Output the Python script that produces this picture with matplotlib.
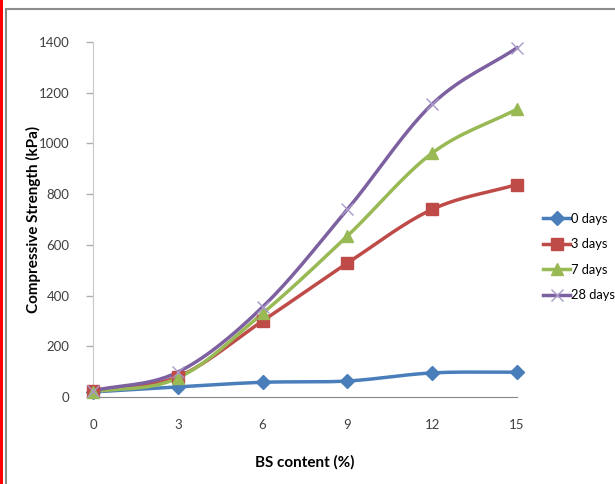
import numpy as np
import matplotlib.pyplot as plt
from matplotlib.lines import Line2D
from matplotlib.patches import Rectangle

# BS content (%) and compressive strength (kPa) for each curing age
bs_content = [0, 3, 6, 9, 12, 15]
strength_0d = [20, 40, 58, 63, 95, 98]
strength_3d = [25, 80, 300, 528, 740, 838]
strength_7d = [20, 75, 330, 635, 962, 1135]
strength_28d = [25, 98, 355, 740, 1155, 1377]
series_names = ['0 days', '3 days', '7 days', '28 days']


def smooth(x, y, n=30):
    # Catmull-Rom spline through the points, like Excel's "smoothed line"
    x = np.asarray(x, float)
    y = np.asarray(y, float)
    px = np.concatenate([[2 * x[0] - x[1]], x, [2 * x[-1] - x[-2]]])
    py = np.concatenate([[2 * y[0] - y[1]], y, [2 * y[-1] - y[-2]]])
    xs, ys = [], []
    t = np.linspace(0, 1, n)
    for i in range(1, len(px) - 2):
        for p, out in ((px, xs), (py, ys)):
            p0, p1, p2, p3 = p[i - 1], p[i], p[i + 1], p[i + 2]
            out.extend(0.5 * ((2 * p1) + (-p0 + p2) * t
                              + (2 * p0 - 5 * p1 + 4 * p2 - p3) * t ** 2
                              + (-p0 + 3 * p1 - 3 * p2 + p3) * t ** 3))
    return np.array(xs), np.array(ys)


plt.rcParams['font.family'] = ['Lato', 'DejaVu Sans']

fig = plt.figure(figsize=(6.15, 4.84), dpi=100)
ax = fig.add_axes([93 / 615, 87 / 484, 424 / 615, 355 / 484])

# frame of the chart area plus red margin line
fig.patches.append(Rectangle((6 / 615, -0.05), 1.0, (484 - 9) / 484 + 0.05,
                             transform=fig.transFigure, fill=False,
                             edgecolor='#8c8c8c', linewidth=1.5))
fig.patches.append(Rectangle((0, 0), 3 / 615, 1, transform=fig.transFigure,
                             facecolor='#ff0000', edgecolor='none'))

styles = [
    (strength_0d, '#4A7EBB', 'D', 7),
    (strength_3d, '#BE4B48', 's', 8),
    (strength_7d, '#98B954', '^', 8),
    (strength_28d, '#7D60A0', 'x', 9),
]
handles = []
for (vals, col, mk, ms), name in zip(styles, series_names):
    sx, sy = smooth(bs_content, vals)
    ax.plot(sx, sy, color=col, linewidth=2.5, zorder=2, clip_on=False)
    if mk == 'x':
        ax.plot(bs_content, vals, linestyle='none', marker='x', markersize=ms,
                markeredgecolor='#a899c8', markeredgewidth=1.0, zorder=3,
                clip_on=False)
        h = Line2D([], [], color=col, linewidth=2.5, marker='x', markersize=ms,
                   markeredgecolor='#a899c8', markeredgewidth=1.0)
    else:
        ax.plot(bs_content, vals, linestyle='none', marker=mk, markersize=ms,
                color=col, zorder=3, clip_on=False)
        h = Line2D([], [], color=col, linewidth=2.5, marker=mk, markersize=ms)
    handles.append(h)

ax.set_xlim(0, 15)
ax.set_ylim(0, 1400)
ax.set_xticks(bs_content)
ax.set_yticks(range(0, 1401, 200))
ax.tick_params(axis='x', length=0, pad=16, labelsize=9.5, labelcolor='#404040')
ax.tick_params(axis='y', length=5, width=1, color='#b0b0b0', pad=12,
               labelsize=9.5, labelcolor='#404040')
for s in ('top', 'right'):
    ax.spines[s].set_visible(False)
ax.spines['left'].set_color('#c8c8c8')
ax.spines['bottom'].set_color('#868686')

ax.set_xlabel('BS content (%)', fontsize=11, fontweight='bold')
ax.set_ylabel('Compressive Strength (kPa)', fontsize=11, fontweight='bold')
ax.xaxis.set_label_coords(0.5, (397 - 455) / 355)
ax.yaxis.set_label_coords((41 - 93) / 424, 0.5)

fig.legend(handles, series_names, loc='center left',
           bbox_to_anchor=(543 / 615, (484 - 257) / 484), frameon=False,
           borderpad=0, borderaxespad=0,
           prop={'family': ['Liberation Sans Narrow', 'Lato'], 'size': 9.3},
           handlelength=2.1, handletextpad=0.05, labelspacing=1.05)

fig.savefig('out.png', dpi=100)
